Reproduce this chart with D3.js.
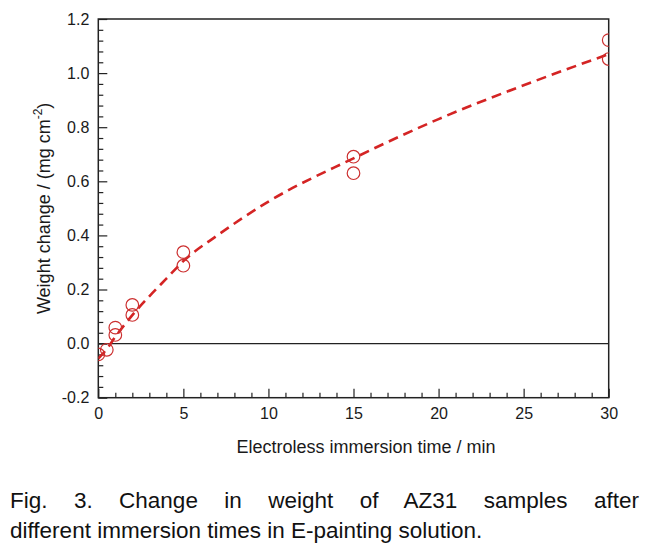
<!DOCTYPE html>
<html>
<head>
<meta charset="utf-8">
<script src="https://cdn.jsdelivr.net/npm/d3@7"></script>
<style>
  body { margin: 0; background: #fff; }
  svg { display: block; font-family: "Liberation Sans", Arial, sans-serif; }
</style>
</head>
<body>
<svg id="chart" width="658" height="551"></svg>
<script>
// Measured data points (immersion time, weight change)
const timePoints = [0, 0.5, 1, 1, 2, 2, 5, 5, 15, 15, 30, 30];
const weightPoints = [-0.04, -0.023, 0.059, 0.032, 0.143, 0.106, 0.338, 0.288, 0.691, 0.63, 1.122, 1.052];

// Fitted trend curve
const fitTime = [0, 0.5, 1, 2, 3, 4, 5, 7, 10, 15, 20, 25, 30];
const fitWeight = [-0.055, -0.02, 0.025, 0.105, 0.175, 0.24, 0.305, 0.40, 0.525, 0.685, 0.83, 0.955, 1.07];

const xTicks = [0, 5, 10, 15, 20, 25, 30];
const yTicks = [-0.2, 0.0, 0.2, 0.4, 0.6, 0.8, 1.0, 1.2];

const xLabel = "Electroless immersion time / min";
const captionLines = ["Fig. 3. Change in weight of AZ31 samples after",
                      "different immersion times in E-painting solution."];

(function () {
const svg = d3.select("#chart");
const pL = 98.3, pR = 608.7, pT = 19, pB = 397.7;

const x = d3.scaleLinear().domain([0, 30]).range([pL, pR]);
const y = d3.scaleLinear().domain([-0.2, 1.2]).range([pB, pT]);

svg.append("defs").append("clipPath").attr("id", "clip")
  .append("rect").attr("x", pL).attr("y", pT)
  .attr("width", pR - pL).attr("height", pB - pT);

// zero line
svg.append("line")
  .attr("x1", pL).attr("x2", pR)
  .attr("y1", y(0)).attr("y2", y(0))
  .attr("stroke", "#222").attr("stroke-width", 1.3);

const xMinor = d3.range(0, 31).filter(v => v % 5 !== 0);
const yMinor = d3.range(-5, 31).filter(i => i % 5 !== 0).map(i => i * 0.04);

const bottomAxis = svg.append("g").attr("transform", `translate(0,${pB})`)
  .call(d3.axisBottom(x).tickValues(xTicks).tickSize(-9).tickPadding(10).tickFormat(d => String(d)));
const bottomMinor = svg.append("g").attr("transform", `translate(0,${pB})`)
  .call(d3.axisBottom(x).tickValues(xMinor).tickSize(-5).tickFormat(""));
const leftAxis = svg.append("g").attr("transform", `translate(${pL},0)`)
  .call(d3.axisLeft(y).tickValues(yTicks).tickSize(-9).tickPadding(9).tickFormat(d => d.toFixed(1)));
const leftMinor = svg.append("g").attr("transform", `translate(${pL},0)`)
  .call(d3.axisLeft(y).tickValues(yMinor).tickSize(-5).tickFormat(""));

[bottomAxis, bottomMinor, leftAxis, leftMinor].forEach(g => {
  g.select(".domain").remove();
  g.selectAll("line").attr("stroke", "#222").attr("stroke-width", 1.2);
  g.selectAll("text").attr("fill", "#1a1a1a").style("font-size", "16px")
    .style("font-family", "'Liberation Sans', Arial, sans-serif");
});

// frame
svg.append("rect").attr("x", pL).attr("y", pT)
  .attr("width", pR - pL).attr("height", pB - pT)
  .attr("fill", "none").attr("stroke", "#222").attr("stroke-width", 1.5);

const plot = svg.append("g").attr("clip-path", "url(#clip)");

// fitted dashed curve
const fitData = fitTime.map((t, i) => [t, fitWeight[i]]);
plot.append("path")
  .datum(fitData)
  .attr("d", d3.line().x(d => x(d[0])).y(d => y(d[1])).curve(d3.curveMonotoneX))
  .attr("fill", "none").attr("stroke", "#d42424").attr("stroke-width", 2.6)
  .attr("stroke-dasharray", "10,6");

// data circles
const pts = timePoints.map((t, i) => [t, weightPoints[i]]);
plot.selectAll("circle").data(pts).enter().append("circle")
  .attr("cx", d => x(d[0])).attr("cy", d => y(d[1])).attr("r", 6.3)
  .attr("fill", "none").attr("stroke", "#cc3030").attr("stroke-width", 1.2);

// x label
svg.append("text").attr("x", 366).attr("y", 453).attr("text-anchor", "middle")
  .style("font-size", "18px").attr("fill", "#1a1a1a").text(xLabel);

// y label with superscript
const yl = svg.append("text")
  .attr("transform", `translate(50,${(pT + pB) / 2}) rotate(-90)`)
  .attr("text-anchor", "middle").style("font-size", "18px").attr("fill", "#1a1a1a");
yl.append("tspan").text("Weight change / (mg cm");
yl.append("tspan").attr("dy", -8).style("font-size", "12px").text("-2");
yl.append("tspan").attr("dy", 8).text(")");

// caption, first line justified
const capX0 = 10, capX1 = 639;
const c1 = svg.append("text").attr("x", capX0).attr("y", 508)
  .style("font-size", "22.5px").attr("fill", "#111").text(captionLines[0]);
const w1 = c1.node().getComputedTextLength();
const nSpaces = captionLines[0].split(" ").length - 1;
c1.attr("word-spacing", ((capX1 - capX0) - w1) / nSpaces);
svg.append("text").attr("x", capX0).attr("y", 538)
  .style("font-size", "22.5px").attr("fill", "#111").text(captionLines[1]);
})();
</script>
</body>
</html>
